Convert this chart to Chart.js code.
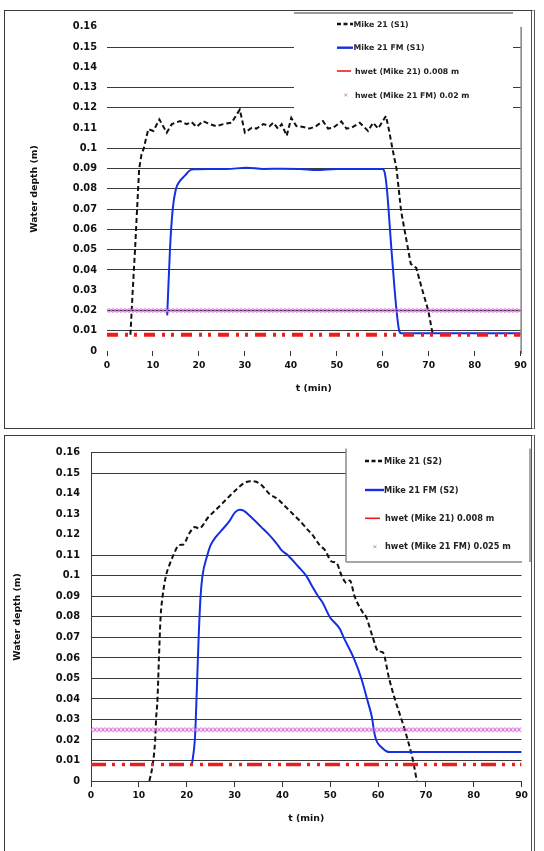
<!DOCTYPE html>
<html>
<head>
<meta charset="utf-8">
<script src="https://cdn.jsdelivr.net/npm/chart.js@4.4.1/dist/chart.umd.min.js"></script>
<style>
html, body { margin:0; padding:0; background:#fff; overflow:hidden; }
.caja { position:absolute; left:4px; width:526px; border:1px solid #3a3a3a; border-right:4px double #555; background:#fff; }
#caja1 { top:10px; height:417px; }
#caja2 { top:435px; height:420px; }
canvas { display:block; }
</style>
</head>
<body>
<div class="caja" id="caja1"><canvas id="grafS1" width="526" height="417"></canvas></div>
<div class="caja" id="caja2"><canvas id="grafS2" width="526" height="420"></canvas></div>
<script>
let fuente = "'DejaVu Sans', Verdana, sans-serif"

let ticksX = [0, 10, 20, 30, 40, 50, 60, 70, 80, 90]
let ticksY = [0, 0.01, 0.02, 0.03, 0.04, 0.05, 0.06, 0.07, 0.08, 0.09, 0.1, 0.11, 0.12, 0.13, 0.14, 0.15, 0.16]

// S1 - Mike 21
let tiempoM21S1 = [5.1, 5.6, 6.1, 6.5, 7.0, 7.5, 8.0, 8.4, 9.0, 10.1, 11.4, 13.0, 14.1, 15.9, 17.3, 18.4, 19.5, 20.9, 22.4, 23.8,
    25.3, 27.1, 28.9, 30.0, 31.5, 32.5, 34.0, 35.4, 36.2, 37.2, 38.0, 39.1, 40.1, 41.2, 42.7, 44.1, 45.5, 47.0, 48.1, 49.2,
    51.0, 52.1, 53.2, 55.0, 56.8, 57.9, 59.0, 60.7, 61.4, 62.1, 63.0, 64.0, 66.1, 67.3, 68.5, 69.9, 70.9]
let m21S1 = [0.008, 0.03, 0.05, 0.068, 0.09, 0.097, 0.1, 0.104, 0.1095, 0.1086, 0.1143, 0.1078, 0.112, 0.1135, 0.112, 0.113, 0.1106, 0.1135, 0.112, 0.111,
    0.112, 0.1127, 0.1192, 0.1078, 0.1102, 0.1098, 0.112, 0.111, 0.1127, 0.1098, 0.112, 0.1062, 0.1151, 0.111, 0.1106, 0.1098, 0.111, 0.1135, 0.1098, 0.1102,
    0.1133, 0.1098, 0.1102, 0.1127, 0.1086, 0.1127, 0.1098, 0.116, 0.1086, 0.1, 0.09, 0.069, 0.043, 0.041, 0.031, 0.02, 0.008]

// S1 - Mike 21 FM
let tiempoFMS1 = [13.1, 13.7, 14.3, 15.0, 15.7, 17.0, 18.0, 19.1, 22, 26, 30.4, 34, 38, 42, 45.6, 50, 55, 59.9, 60.4, 60.9, 61.9, 63.0, 63.6, 64.0, 90]
let fmS1 = [0.0176, 0.05, 0.07, 0.08, 0.0834, 0.0867, 0.0891, 0.0897, 0.0899, 0.0898, 0.0905, 0.0899, 0.09, 0.0899, 0.0893, 0.0899, 0.0899, 0.0898, 0.0883, 0.08, 0.05, 0.02, 0.0098, 0.0088, 0.0088]

// S2 - Mike 21
let tiempoM21S2 = [12.2, 12.9, 13.4, 13.6, 13.9, 14.2, 14.55, 14.96, 15.66, 16.5, 17.2, 18.4, 19.3, 20.5, 21.7, 22.6, 24.5, 26.6, 28.3, 30.4,
    32.2, 33.5, 35.3, 37.4, 39.1, 40.1, 42.2, 43.6, 45.4, 46.1, 47.8, 48.9, 50.3, 51.3, 52.3, 53.4, 54.1, 55.1, 56.8, 57.5,
    58.9, 60.0, 61.0, 62.3, 63.5, 64.9, 66.2, 67.3, 68.1]
let m21S2 = [0, 0.008, 0.0197, 0.03, 0.04, 0.06, 0.08, 0.09, 0.1, 0.106, 0.11, 0.115, 0.1153, 0.1206, 0.1238, 0.1232, 0.1286, 0.1334, 0.1374, 0.1422,
    0.1455, 0.1462, 0.145, 0.1398, 0.1374, 0.135, 0.1302, 0.127, 0.1222, 0.1206, 0.115, 0.1126, 0.107, 0.1064, 0.1006, 0.0966, 0.0978, 0.09, 0.0822, 0.08,
    0.07, 0.0633, 0.0627, 0.05, 0.04, 0.03, 0.02, 0.01, 0]

// S2 - Mike 21 FM
let tiempoFMS2 = [21.1, 21.7, 21.9, 22.2, 22.5, 22.9, 23.3, 24.3, 25.0, 26.1, 27.6, 29.0, 30.1, 31.1, 31.9, 33.5, 35.6, 37.0, 38.8, 39.8,
    41.2, 43.3, 45.0, 46.4, 47.5, 48.4, 49.9, 52.0, 52.8, 54.9, 56.5, 57.7, 58.8, 59.1, 59.6, 60.7, 62.4, 90]
let fmS2 = [0.008, 0.02, 0.03, 0.05, 0.07, 0.09, 0.1, 0.11, 0.115, 0.119, 0.123, 0.127, 0.131, 0.1323, 0.1318, 0.1286, 0.1238, 0.1206, 0.1158, 0.1126,
    0.11, 0.1046, 0.1, 0.0942, 0.09, 0.087, 0.08, 0.0742, 0.07, 0.06, 0.05, 0.04, 0.03, 0.025, 0.02, 0.0165, 0.0141, 0.0141]

// umbrales hwet
let tiempoHwet = [0, 90]
let hwetM21 = [0.008, 0.008]
let hwetFMS1 = [0.02, 0.02]
let hwetFMS2 = [0.025, 0.025]

let nombresS1 = ['Mike 21 (S1)', 'Mike 21 FM (S1)', 'hwet (Mike 21) 0.008 m', 'hwet (Mike 21 FM) 0.02 m']
let nombresS2 = ['Mike 21 (S2)', 'Mike 21 FM (S2)', 'hwet (Mike 21) 0.008 m', 'hwet (Mike 21 FM) 0.025 m']

function puntos(xs, ys){
    return xs.map((x, i) => ({x: x, y: ys[i]}))
}

function patronX(canvas, color){
    let c = document.createElement('canvas')
    c.width = 4
    c.height = 5
    let g = c.getContext('2d')
    g.strokeStyle = color
    g.lineWidth = 1.1
    g.beginPath()
    g.moveTo(0.3, 0.5); g.lineTo(3.7, 4.5)
    g.moveTo(3.7, 0.5); g.lineTo(0.3, 4.5)
    g.stroke()
    return canvas.getContext('2d').createPattern(c, 'repeat')
}

// caja de leyenda, marco derecho y alineado de la banda rosa
let decorado = {
    id: 'decorado',
    beforeDatasetsDraw(chart, args, o){
        let ctx = chart.ctx
        let a = chart.chartArea
        ctx.save()
        if (o.marcoDerecho){
            ctx.strokeStyle = '#444'
            ctx.lineWidth = 1
            ctx.beginPath()
            ctx.moveTo(a.right + 0.5, a.top)
            ctx.lineTo(a.right + 0.5, a.bottom + 3)
            ctx.stroke()
        }
        let c = o.caja
        ctx.fillStyle = '#fff'
        ctx.fillRect(c.x0, c.y0, c.x1 - c.x0, c.y1 - c.y0)
        ctx.strokeStyle = c.color
        ctx.lineWidth = c.grosor
        ctx.beginPath()
        if (c.lados.includes('top')) { ctx.moveTo(c.x0, c.y0); ctx.lineTo(c.x1, c.y0) }
        if (c.lados.includes('left')) { ctx.moveTo(c.x0, c.y0); ctx.lineTo(c.x0, c.y1) }
        if (c.lados.includes('right')) { ctx.moveTo(c.x1, c.y0); ctx.lineTo(c.x1, c.y1) }
        if (c.lados.includes('bottom')) { ctx.moveTo(c.x0, c.y1); ctx.lineTo(c.finAbajo || c.x1, c.y1) }
        ctx.stroke()

        ctx.font = 'bold ' + o.letra + 'px ' + fuente
        ctx.textBaseline = 'middle'
        chart.data.datasets.forEach((ds, i) => {
            let y = o.filas[i]
            let m = o.muestras[i]
            if (ds.banda){
                ctx.setLineDash([])
                ctx.strokeStyle = ds.colorLeyenda
                ctx.lineWidth = 0.9
                ctx.beginPath()
                ctx.moveTo(m[0] - 1.5, y - 1.5); ctx.lineTo(m[0] + 1.5, y + 1.5)
                ctx.moveTo(m[0] + 1.5, y - 1.5); ctx.lineTo(m[0] - 1.5, y + 1.5)
                ctx.stroke()
            } else {
                ctx.setLineDash(ds.dashLeyenda || [])
                ctx.strokeStyle = ds.borderColor
                ctx.lineWidth = ds.anchoLeyenda
                ctx.beginPath()
                ctx.moveTo(m[0], y)
                ctx.lineTo(m[1], y)
                ctx.stroke()
            }
            ctx.fillStyle = '#222'
            ctx.fillText(ds.label, o.textoX[i], y + 0.5)
        })
        ctx.restore()

        chart.data.datasets.forEach(ds => {
            if (ds.banda){
                let yb = chart.scales.y.getPixelForValue(ds.data[0].y)
                ds.borderColor.setTransform(new DOMMatrix([1, 0, 0, 1, 0, yb - 2.5]))
            }
        })
    }
}

function crearGrafico(cfg){
    let canvas = document.getElementById(cfg.id)
    let letraEje = {family: fuente, size: 9.8, weight: 'bold'}
    let letraX = {family: fuente, size: 9.2, weight: 'bold'}
    let letraTitulo = {family: fuente, size: 9.4, weight: 'bold'}

    return new Chart(canvas, {
        type: 'line',
        data: {
            datasets: [{
                label: cfg.nombres[0],
                data: puntos(cfg.tM21, cfg.vM21),
                borderColor: '#111',
                borderWidth: 2,
                borderDash: [5, 3],
                dashLeyenda: [4, 2.5],
                anchoLeyenda: 2.6,
                pointRadius: 0,
                tension: 0,
                cubicInterpolationMode: cfg.suave ? 'monotone' : 'default',
                order: 3
            }, {
                label: cfg.nombres[1],
                data: puntos(cfg.tFM, cfg.vFM),
                borderColor: '#1530e0',
                borderWidth: 2,
                anchoLeyenda: 2.4,
                pointRadius: 0,
                cubicInterpolationMode: 'monotone',
                order: 2
            }, {
                label: cfg.nombres[2],
                data: puntos(tiempoHwet, hwetM21),
                borderColor: '#ee1c1c',
                borderWidth: cfg.anchoRojo,
                borderDash: cfg.dashRojo,
                borderCapStyle: 'butt',
                anchoLeyenda: 1.6,
                pointRadius: 0,
                order: 1
            }, {
                label: cfg.nombres[3],
                data: puntos(tiempoHwet, cfg.hwetFM),
                borderColor: patronX(canvas, '#d866d8'),
                colorLeyenda: '#d866d8',
                banda: true,
                borderWidth: 5,
                pointRadius: 0,
                order: 0
            }]
        },
        options: {
            responsive: false,
            animation: false,
            layout: { padding: cfg.padding },
            scales: {
                x: {
                    type: 'linear',
                    min: 0,
                    max: 90,
                    afterBuildTicks: s => { s.ticks = ticksX.map(v => ({value: v})) },
                    afterFit: s => { s.height = 50 },
                    ticks: { font: letraX, color: '#111', padding: cfg.padTickX, maxRotation: 0, autoSkip: false },
                    grid: { drawOnChartArea: false, drawTicks: true, tickLength: cfg.largoTick, color: '#333' },
                    border: { display: false },
                    title: { display: true, text: 't (min)', font: letraTitulo, color: '#111', padding: {top: 0, bottom: cfg.padTituloX} }
                },
                y: {
                    min: 0,
                    max: 0.16,
                    afterBuildTicks: s => { s.ticks = ticksY.map(v => ({value: v})) },
                    afterFit: s => { s.width = cfg.anchoY },
                    ticks: {
                        font: letraEje,
                        color: '#111',
                        padding: cfg.padTickY,
                        autoSkip: false,
                        callback: v => String(+v.toFixed(2))
                    },
                    grid: {
                        drawTicks: false,
                        lineWidth: 1,
                        color: c => (c.tick && cfg.ocultas.includes(Math.round(c.tick.value * 100))) ? 'rgba(0,0,0,0)' : '#3a3a3a'
                    },
                    border: { display: cfg.bordeY, color: '#3a3a3a', width: 1 },
                    title: { display: true, text: 'Water depth (m)', font: letraTitulo, color: '#111', padding: {top: cfg.padTituloY, bottom: 0} }
                }
            },
            plugins: {
                legend: { display: false },
                tooltip: { enabled: false },
                decorado: cfg.decorado
            }
        },
        plugins: [decorado]
    })
}

crearGrafico({
    id: 'grafS1',
    tM21: tiempoM21S1, vM21: m21S1,
    tFM: tiempoFMS1, vFM: fmS1,
    hwetFM: hwetFMS1,
    nombres: nombresS1,
    suave: false,
    padding: {top: 12, right: 10, bottom: 27, left: 0},
    anchoY: 102,
    padTickY: 10,
    padTickX: 4,
    largoTick: 5,
    padTituloX: 7,
    padTituloY: 24,
    ocultas: [0, 3, 11, 14, 16],
    bordeY: false,
    anchoRojo: 4,
    dashRojo: [11, 7, 3, 6, 3, 7],
    decorado: {
        marcoDerecho: true,
        caja: {x0: 289, y0: 2, x1: 508, y1: 99, lados: ['top'], color: '#9a9a9a', grosor: 2},
        filas: [13, 36.7, 60, 84],
        muestras: [[332, 348], [332, 348], [332, 346], [340.7]],
        textoX: [348.5, 348.5, 350, 350],
        letra: 7.8
    }
})

crearGrafico({
    id: 'grafS2',
    tM21: tiempoM21S2, vM21: m21S2,
    tFM: tiempoFMS2, vFM: fmS2,
    hwetFM: hwetFMS2,
    nombres: nombresS2,
    suave: true,
    padding: {top: 12, right: 9, bottom: 25, left: 0},
    anchoY: 86,
    padTickY: 11,
    padTickX: 3,
    largoTick: 6,
    padTituloX: 7,
    padTituloY: 6.5,
    ocultas: [12, 13, 14],
    bordeY: true,
    anchoRojo: 3.5,
    dashRojo: [15, 6, 3, 7, 3, 5],
    decorado: {
        marcoDerecho: false,
        caja: {x0: 341, y0: 12.5, x1: 525, y1: 126, lados: ['left', 'right', 'bottom'], color: '#8a8a8a', grosor: 1.5, finAbajo: 517},
        filas: [25, 54, 82.3, 110.7],
        muestras: [[360, 379], [360, 379], [360, 375], [370]],
        textoX: [379, 379, 380, 380],
        letra: 8.2
    }
})
</script>
</body>
</html>
